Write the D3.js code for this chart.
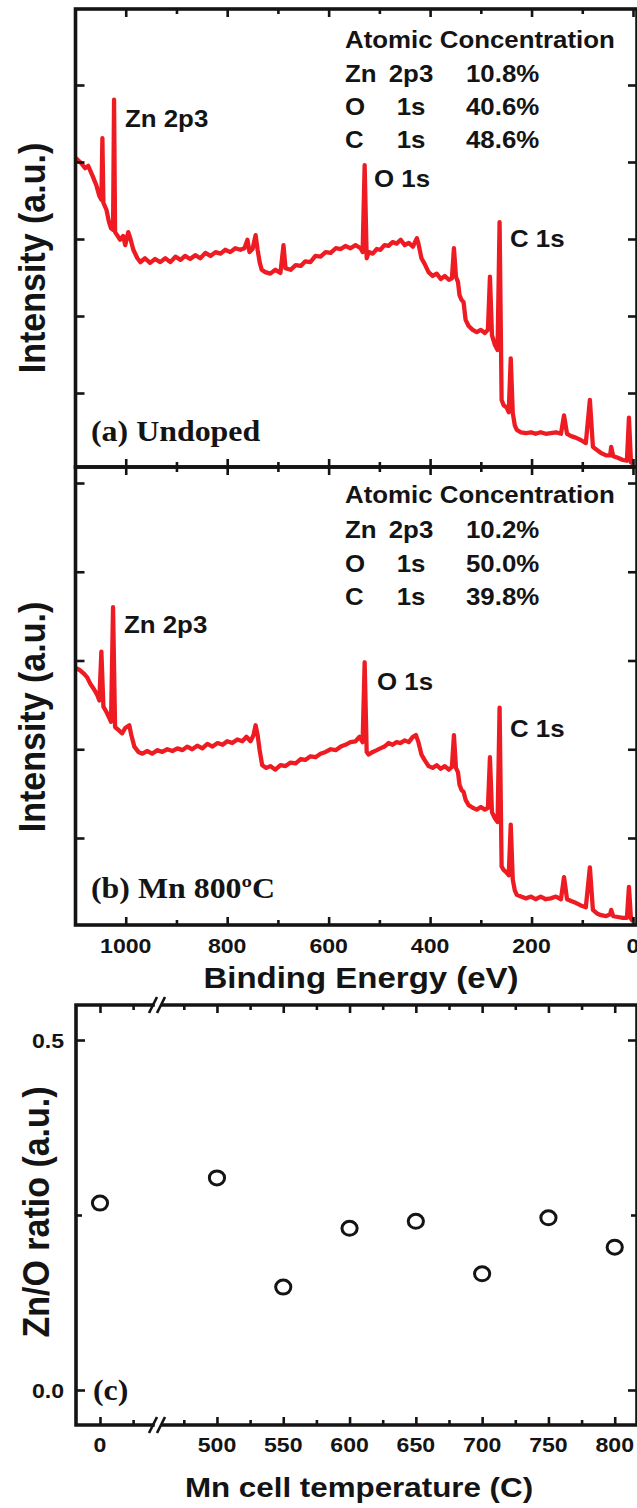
<!DOCTYPE html>
<html><head><meta charset="utf-8">
<script src="https://cdn.jsdelivr.net/npm/d3@7"></script>
<style>body{margin:0;background:#fff}svg{display:block}</style>
</head><body>
<svg id="c" width="637" height="1508"></svg>
<script>
// ---------- DATA ----------
// Panel (a) Undoped: [binding energy (eV), intensity (a.u.)]
const spectrumA = [[1100,40.6],[1090,40.0],[1080,39.2],[1074,39.5],[1066,38.3],[1058,37.0],[1052,35.6],[1048,35.1],[1046,43.1],[1044,34.7],[1038,33.8],[1033,32.2],[1029,31.4],[1025,31.2],[1023,48.1],[1021,30.9],[1017,30.5],[1011,29.9],[1005,30.4],[1001,29.2],[995,30.9],[991,30.1],[985,28.6],[977,27.5],[971,27.0],[962,27.5],[952,26.9],[942,27.4],[932,27.0],[922,27.5],[912,27.0],[902,27.7],[892,27.3],[883,27.8],[873,27.4],[863,27.9],[853,27.5],[843,28.2],[833,27.8],[823,28.3],[813,28.1],[804,28.6],[794,28.3],[784,28.8],[774,28.6],[766,28.8],[760,29.9],[756,28.3],[750,28.7],[744,30.5],[740,28.6],[736,27.0],[732,26.0],[725,25.7],[715,25.5],[705,26.0],[695,25.6],[689,29.2],[685,26.2],[675,26.0],[665,26.6],[655,26.5],[646,27.1],[636,27.0],[626,27.8],[616,27.7],[606,28.3],[596,28.2],[586,28.8],[576,28.7],[567,29.1],[557,28.8],[547,29.2],[537,28.8],[533,28.3],[529,39.6],[525,27.5],[521,28.3],[513,28.1],[505,28.7],[498,28.6],[490,29.2],[482,29.1],[474,29.6],[466,29.4],[458,29.9],[450,29.2],[442,29.5],[434,29.0],[426,30.1],[423,29.4],[417,27.5],[411,26.8],[403,25.7],[395,25.2],[387,25.5],[379,24.8],[371,25.2],[363,24.7],[357,24.9],[353,28.8],[349,25.1],[345,24.4],[342,22.7],[338,22.1],[334,21.8],[330,19.5],[324,18.7],[316,18.2],[308,17.9],[300,18.2],[292,17.8],[286,18.2],[282,25.1],[278,17.5],[272,16.2],[267,15.6],[263,32.2],[259,9.1],[255,8.4],[249,8.1],[245,7.5],[241,14.5],[237,7.4],[233,5.8],[229,5.2],[221,4.9],[211,4.8],[201,4.9],[192,4.7],[182,4.9],[172,4.7],[162,4.8],[152,4.9],[142,4.7],[136,7.1],[130,4.7],[122,4.4],[113,4.2],[103,3.9],[93,3.5],[85,9.1],[79,3.0],[71,2.6],[63,2.2],[53,1.9],[45,1.9],[43,3.0],[39,1.8],[30,1.6],[20,1.3],[12,1.2],[8,6.8],[4,1.0],[0,0.8]];

// Panel (b) Mn 800ºC
const spectrumB = [[1100,29.2],[1090,28.9],[1082,28.5],[1076,28.1],[1070,27.4],[1062,26.7],[1056,26.1],[1052,25.5],[1048,31.0],[1044,24.8],[1038,24.2],[1033,23.6],[1029,23.1],[1025,36.0],[1021,22.5],[1015,22.2],[1007,21.8],[1001,22.4],[993,22.7],[989,21.6],[983,20.3],[975,19.7],[967,19.5],[958,19.8],[948,19.5],[938,19.9],[928,19.7],[918,20.0],[908,19.8],[898,20.1],[888,19.9],[879,20.3],[869,20.0],[859,20.4],[849,20.1],[839,20.6],[829,20.3],[819,20.7],[809,20.5],[800,20.9],[790,20.7],[780,21.1],[770,20.9],[762,21.4],[754,20.9],[748,21.6],[744,22.7],[740,21.6],[736,19.9],[731,18.2],[723,17.9],[715,18.1],[705,17.7],[695,18.2],[685,18.1],[675,18.5],[665,18.4],[655,18.9],[646,18.8],[636,19.2],[626,19.1],[616,19.5],[606,19.7],[596,20.0],[586,19.9],[576,20.3],[567,20.5],[557,20.8],[547,20.9],[539,21.4],[533,20.8],[529,29.8],[525,19.7],[521,19.4],[513,19.7],[505,19.9],[498,20.1],[490,20.3],[482,20.7],[474,20.5],[466,20.8],[458,20.7],[450,21.0],[442,20.8],[434,21.4],[428,21.6],[423,20.8],[417,19.4],[411,18.8],[403,18.1],[395,17.9],[387,18.2],[379,17.8],[371,18.1],[363,17.7],[357,18.0],[353,21.6],[349,17.9],[345,17.4],[342,16.0],[338,15.4],[334,15.2],[330,14.3],[324,13.7],[316,13.4],[308,13.2],[300,13.5],[292,13.2],[286,13.4],[282,19.1],[278,12.9],[272,12.2],[267,11.8],[263,24.7],[259,6.8],[255,6.4],[249,6.1],[245,5.8],[241,11.5],[237,5.3],[233,4.1],[229,3.6],[221,3.4],[211,3.2],[201,3.4],[192,3.1],[182,3.4],[172,3.1],[162,3.2],[152,3.4],[142,3.1],[136,5.6],[130,3.1],[122,2.9],[113,2.7],[103,2.4],[93,2.2],[85,6.7],[79,1.9],[71,1.5],[63,1.3],[53,1.2],[45,1.4],[43,1.9],[39,1.2],[30,1.1],[20,1.0],[12,1.0],[8,4.5],[4,0.9],[0,0.6]];

// Panel (c)
const mnTemps = [0, 500, 550, 600, 650, 700, 750, 800];
const znORatio = [0.267, 0.303, 0.147, 0.231, 0.241, 0.166, 0.246, 0.204];

// Ticks
const energyMajor = [1000, 800, 600, 400, 200, 0];
const energyMinor = [900, 700, 500, 300, 100];
const intensityTicks = [10, 20, 30, 40, 50];
const tempMajor1 = [0], tempMinor1 = [25];
const tempMajor2 = [500, 550, 600, 650, 700, 750, 800];
const tempMinor2 = [475, 525, 575, 625, 675, 725, 775];
const ratioMajor = [0.0, 0.5], ratioMinor = [0.25];

const concA = [["Zn","2p3","10.8%"],["O","1s","40.6%"],["C","1s","48.6%"]];
const concB = [["Zn","2p3","10.2%"],["O","1s","50.0%"],["C","1s","39.8%"]];

// ---------- SETUP ----------
const svg = d3.select("#c");
const SX = 1.1;
const sans = "'Liberation Sans', Arial, Helvetica, sans-serif";
const serif = "'Liberation Serif', 'Times New Roman', serif";
const INK = "#141414", RED = "#ee1c22";

function label(g, x, y, str, size, opt = {}) {
  return g.append("text")
    .attr("transform", `translate(${x},${y}) scale(${SX},1)` + (opt.rotate ? " rotate(-90)" : ""))
    .attr("font-family", opt.serif ? serif : sans)
    .attr("font-weight", "bold")
    .attr("font-size", size)
    .attr("text-anchor", opt.anchor || "start")
    .attr("fill", INK)
    .text(str);
}
function tickAxis(g, tx, ty, gen) {
  const a = g.append("g").attr("transform", `translate(${tx},${ty})`).call(gen);
  a.select(".domain").remove();
  a.selectAll("text").remove();
  a.selectAll(".tick line").attr("stroke", INK).attr("stroke-width", 2.6);
  return a;
}

const L = 75.5, R = 637;
const xE = d3.scaleLinear().domain([1100, 0]).range([75, 633]);
const yA = d3.scaleLinear().domain([0, 60]).range([470, 8]);
const yB = d3.scaleLinear().domain([0, 60]).range([926.75, 394.25]);
const panels = [
  {top: 9, bot: 467, y: yA, data: spectrumA},
  {top: 467, bot: 925, y: yB, data: spectrumB}
];

// ---------- PANELS (a), (b) ----------
panels.forEach((p, i) => {
  const g = svg.append("g");
  const cid = "clip" + i;
  svg.append("clipPath").attr("id", cid).append("rect")
    .attr("x", L).attr("y", p.top).attr("width", R - L).attr("height", p.bot - p.top);
  const line = d3.line().x(d => xE(d[0])).y(d => p.y(d[1]));
  g.append("path").datum(p.data).attr("d", line)
    .attr("fill", "none").attr("stroke", RED).attr("stroke-width", 4.3)
    .attr("stroke-linejoin", "round").attr("clip-path", `url(#${cid})`);
  // ticks
  tickAxis(g, 0, p.top, d3.axisBottom(xE).tickValues(energyMajor).tickSize(8));
  tickAxis(g, 0, p.top, d3.axisBottom(xE).tickValues(energyMinor).tickSize(5));
  tickAxis(g, 0, p.bot, d3.axisTop(xE).tickValues(energyMajor).tickSize(8));
  tickAxis(g, 0, p.bot, d3.axisTop(xE).tickValues(energyMinor).tickSize(5));
  tickAxis(g, L, 0, d3.axisRight(p.y).tickValues(intensityTicks).tickSize(9));
  tickAxis(g, R, 0, d3.axisLeft(p.y).tickValues(intensityTicks).tickSize(9));
  g.append("rect").attr("x", L).attr("y", p.top).attr("width", R - L).attr("height", p.bot - p.top)
    .attr("fill", "none").attr("stroke", INK).attr("stroke-width", 3.6);
});

// x tick labels & title for spectra
const gx = svg.append("g");
energyMajor.forEach(v => label(gx, xE(v), 953, String(v), 21, {anchor: "middle"}));
label(gx, 361, 988, "Binding Energy (eV)", 30, {anchor: "middle"});
label(svg, 45, 258, "Intensity (a.u.)", 34, {anchor: "middle", rotate: true});
label(svg, 45, 717, "Intensity (a.u.)", 34, {anchor: "middle", rotate: true});

// annotations (a)
label(svg, 125, 127, "Zn 2p3", 23.5);
label(svg, 374, 187, "O 1s", 23.5);
label(svg, 510, 247, "C 1s", 23.5);
label(svg, 345, 48, "Atomic Concentration", 23.5);
concA.forEach((r, k) => {
  const yy = 82 + k * 33;
  label(svg, 345, yy, r[0], 23.5);
  label(svg, 411, yy, r[1], 23.5, {anchor: "middle"});
  label(svg, 466, yy, r[2], 23.5);
});
label(svg, 91, 441, "(a) Undoped", 29, {serif: true});

// annotations (b)
label(svg, 124, 633, "Zn 2p3", 23.5);
label(svg, 377, 690, "O 1s", 23.5);
label(svg, 510, 737, "C 1s", 23.5);
label(svg, 345, 503, "Atomic Concentration", 23.5);
concB.forEach((r, k) => {
  const yy = 538 + k * 33.5;
  label(svg, 345, yy, r[0], 23.5);
  label(svg, 411, yy, r[1], 23.5, {anchor: "middle"});
  label(svg, 466, yy, r[2], 23.5);
});
label(svg, 91, 898, "(b) Mn 800ºC", 29, {serif: true});

// ---------- PANEL (c) ----------
const cT = 1005, cB = 1425, cL = 76, brk1 = 153, brk2 = 161;
const xC1 = d3.scaleLinear().domain([-18.1, 40]).range([cL, 153]);
const xC2 = d3.scaleLinear().domain([459.3, 816.8]).range([163, R]);
const xC = t => (t < 300 ? xC1(t) : xC2(t));
const yC = d3.scaleLinear().domain([-0.05, 0.55]).range([cB, cT]);
const gc = svg.append("g");

[[xC1, tempMajor1, tempMinor1], [xC2, tempMajor2, tempMinor2]].forEach(([s, maj, mn]) => {
  tickAxis(gc, 0, cT, d3.axisBottom(s).tickValues(maj).tickSize(8));
  tickAxis(gc, 0, cT, d3.axisBottom(s).tickValues(mn).tickSize(5));
  tickAxis(gc, 0, cB, d3.axisTop(s).tickValues(maj).tickSize(8));
  tickAxis(gc, 0, cB, d3.axisTop(s).tickValues(mn).tickSize(5));
});
tickAxis(gc, cL, 0, d3.axisRight(yC).tickValues(ratioMajor).tickSize(9));
tickAxis(gc, cL, 0, d3.axisRight(yC).tickValues(ratioMinor).tickSize(6));
tickAxis(gc, R, 0, d3.axisLeft(yC).tickValues(ratioMajor).tickSize(9));
tickAxis(gc, R, 0, d3.axisLeft(yC).tickValues(ratioMinor).tickSize(6));

// frame with axis break
const fr = gc.append("g").attr("stroke", INK).attr("stroke-width", 3.6).attr("fill", "none");
fr.append("path").attr("d", `M${brk1},${cT}H${cL}V${cB}H${brk1}`).attr("stroke-linecap", "square");
fr.append("path").attr("d", `M${brk2},${cT}H${R}V${cB}H${brk2}`);
[cT, cB].forEach(yy => [brk1, brk2].forEach(xx => {
  gc.append("line").attr("x1", xx - 4).attr("y1", yy + 8).attr("x2", xx + 4).attr("y2", yy - 8)
    .attr("stroke", INK).attr("stroke-width", 2.6);
}));

gc.selectAll("ellipse.pt").data(mnTemps.map((t, i) => [t, znORatio[i]])).join("ellipse")
  .attr("class", "pt").attr("cx", d => xC(d[0])).attr("cy", d => yC(d[1]))
  .attr("rx", 7.6).attr("ry", 7)
  .attr("fill", "none").attr("stroke", INK).attr("stroke-width", 3);

tempMajor1.concat(tempMajor2).forEach(v => label(gc, xC(v), 1452, String(v), 21, {anchor: "middle"}));
ratioMajor.forEach(v => label(gc, 64, yC(v) + 7.5, v.toFixed(1), 21, {anchor: "end"}));
label(gc, 359, 1497, "Mn cell temperature (C)", 28.5, {anchor: "middle"});
label(gc, 49, 1212, "Zn/O ratio (a.u.)", 34, {anchor: "middle", rotate: true});
label(gc, 93, 1400, "(c)", 29, {serif: true});
</script>
</body></html>
